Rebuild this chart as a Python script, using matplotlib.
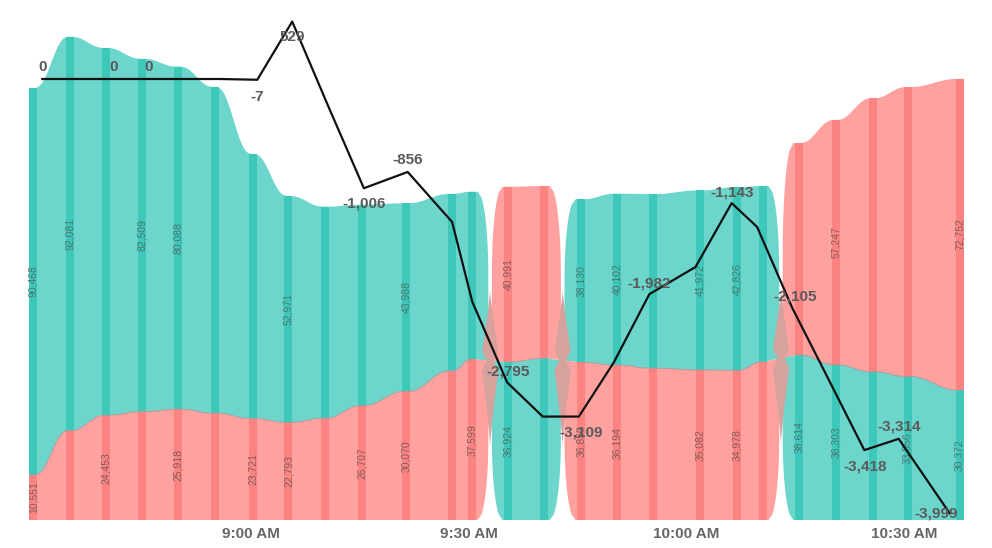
import numpy as np
import pandas as pd
import matplotlib

matplotlib.use("Agg")
import matplotlib.pyplot as plt
from matplotlib.patches import Polygon

plt.rcParams["font.family"] = ["Liberation Sans", "DejaVu Sans"]

# --- data -------------------------------------------------------------------
times = [
    "08:30:00", "08:35:00", "08:40:00", "08:45:00", "08:50:00", "08:55:00",
    "09:00:15", "09:05:10", "09:10:10", "09:15:15", "09:21:25", "09:27:40",
    "09:30:30", "09:35:25", "09:40:25", "09:45:30", "09:50:25", "09:55:25",
    "10:01:55", "10:07:00", "10:10:35", "10:15:30", "10:20:35", "10:25:40",
    "10:30:30", "10:37:40",
]
teal_vals = [
    90468, 92081, 85900, 82509, 80088, 76300, 61840, 52971, 49470, 47000,
    43988, 41400, 39160, 36924, 37800, 38130, 40102, 40750, 41972, 42826,
    41080, 38614, 36303, 34670, 33556, 30372,
]
red_vals = [
    10551, 20900, 24453, 25320, 25918, 24950, 23721, 22793, 23780, 26707,
    30070, 34850, 37599, 40991, 40280, 36850, 36194, 35470, 35082, 34978,
    37010, 49520, 57247, 63920, 67660, 72752,
]
net_vals = [
    0, 0, 0, 0, 0, 0, -7, 529, -240, -1006, -856, -1317, -2051, -2795,
    -3109, -3109, -2610, -1982, -1731, -1143, -1363, -2105, -2760, -3418,
    -3314, -3999,
]
teal_label_idx = [0, 1, 3, 4, 7, 10, 13, 15, 16, 18, 19, 21, 22, 24, 25]
red_label_idx = [0, 2, 4, 6, 7, 9, 10, 12, 13, 15, 16, 18, 19, 22, 25]
# index -> label offset in pixels (dx, dy)
net_label_offsets = {
    0: (0, 12), 2: (0, 12), 3: (0, 12), 6: (0, -17), 7: (0, -15),
    9: (0, -15), 10: (0, 12), 13: (1, 11), 15: (2, -16), 17: (0, 11),
    19: (0, 11), 21: (3, 11), 23: (1, -16), 24: (0, 12), 25: (-13, 0),
}
tick_times = ["09:00:00", "09:30:00", "10:00:00", "10:30:00"]
tick_labels = ["9:00 AM", "9:30 AM", "10:00 AM", "10:30 AM"]

# --- style ------------------------------------------------------------------
TEAL, TEAL_DARK = "#6dd6cc", "#3dc8ba"
RED, RED_DARK = "#ffa19f", "#fb8483"
BROWN = "#d6a29d"
PX_PER_MIN = 7.256
UNITS_PER_PX = 233.8

t0 = pd.Timedelta("08:30:00")
mins = (pd.to_timedelta(times) - t0).total_seconds().to_numpy() / 60
tick_mins = (pd.to_timedelta(tick_times) - t0).total_seconds().to_numpy() / 60
teal = np.array(teal_vals, float)
red = np.array(red_vals, float)
total = teal + red
bnd = np.minimum(teal, red)
teal_top = teal >= red


def smooth(xk, yk, n=24):
    xs, ys = [], []
    for i in range(len(xk) - 1):
        t = np.linspace(0, 1, n, endpoint=False)
        s = t ** 3 * (t * (6 * t - 15) + 10)
        xs.append(xk[i] + (xk[i + 1] - xk[i]) * t)
        ys.append(yk[i] + (yk[i + 1] - yk[i]) * s)
    xs.append([xk[-1]])
    ys.append([yk[-1]])
    return np.concatenate(xs), np.concatenate(ys)


def cap_shape(t):
    r = np.clip(t / 0.5, 0, 1)
    return 0.3 + 0.6 * np.sqrt(1 - (1 - r) ** 2) + 0.1 * t ** 8


# split into runs where the same series is on top
segments = []
start = 0
for i in range(1, len(mins)):
    if teal_top[i] != teal_top[start]:
        segments.append((start, i - 1))
        start = i
segments.append((start, len(mins) - 1))

fig = plt.figure(figsize=(9.92, 5.48), dpi=100)
rect = [0, 28 / 548, 1, 520 / 548]
ax = fig.add_axes(rect)
ax.set_xlim(-33.3 / PX_PER_MIN, (992 - 33.3) / PX_PER_MIN)
ax.set_ylim(0, 520 * UNITS_PER_PX)
for sp in ax.spines.values():
    sp.set_visible(False)
ax.set_yticks([])
ax.set_xticks(tick_mins)
ax.set_xticklabels(tick_labels, fontsize=11, fontweight="bold", color="#666666")
ax.tick_params(axis="x", length=0, pad=5)

tt = np.linspace(0, 1, 30)
ext = 0.5
gaps = []
for i0, i1 in segments:
    xk = mins[i0:i1 + 1]
    left = i0 > 0
    right = i1 < len(mins) - 1
    if left:
        hl = (mins[i0] - mins[i0 - 1]) / 2
        pbl = (bnd[i0 - 1] + bnd[i0]) / 2
    if right:
        hr = (mins[i1 + 1] - mins[i1]) / 2
        pbr = (bnd[i1] + bnd[i1 + 1]) / 2
        gaps.append((mins[i1] + hr, pbr))

    xi, yi = smooth(xk, bnd[i0:i1 + 1])
    inner_x, inner_y = list(xi), list(yi)
    if left:
        inner_x.insert(0, mins[i0] - hl)
        inner_y.insert(0, pbl)
    else:
        inner_x.insert(0, mins[i0] - ext)
        inner_y.insert(0, bnd[i0])
    if right:
        inner_x.append(mins[i1] + hr)
        inner_y.append(pbr)
    else:
        inner_x.append(mins[i1] + ext)
        inner_y.append(bnd[i1])

    top_color = TEAL if teal_top[i0] else RED
    bot_color = RED if teal_top[i0] else TEAL
    for outer_vals, color in ((total, top_color), (np.zeros_like(total), bot_color)):
        xo, yo = smooth(xk, outer_vals[i0:i1 + 1])
        u0, u1 = outer_vals[i0], outer_vals[i1]
        if left:
            r = tt[::-1]
            lx = mins[i0] - hl * cap_shape(r)
            ly = u0 + (pbl - u0) * r
        else:
            lx, ly = np.array([mins[i0] - ext]), np.array([u0])
        if right:
            rx = mins[i1] + hr * cap_shape(tt)
            ry = u1 + (pbr - u1) * tt
        else:
            rx, ry = np.array([mins[i1] + ext]), np.array([u1])
        ox = np.concatenate([lx, xo, rx])
        oy = np.concatenate([ly, yo, ry])
        px = np.concatenate([ox, inner_x[::-1]])
        py = np.concatenate([oy, inner_y[::-1]])
        ax.add_patch(Polygon(np.column_stack([px, py]), closed=True,
                             facecolor=color, edgecolor="none", zorder=1))

    # darker stripes at each sample
    for i in range(i0, i1 + 1):
        ax.bar(mins[i], bnd[i], width=1.1, color=RED_DARK if teal_top[i] else TEAL_DARK,
               zorder=2, linewidth=0)
        ax.bar(mins[i], total[i] - bnd[i], bottom=bnd[i], width=1.1,
               color=TEAL_DARK if teal_top[i] else RED_DARK, zorder=2, linewidth=0)
    ax.plot(xi, yi, color="#b39a98", lw=0.7, zorder=3)

# crossing "bow-tie" where the two series swap places
for gx, pb in gaps:
    d_up = np.linspace(0, 70, 40)
    d_dn = np.linspace(0, 85, 40)
    w_up = 9.5 * (1 - d_up / 70) ** 1.2 * (0.35 + 0.65 * np.minimum(d_up / 10, 1))
    w_dn = 9.5 * (1 - d_dn / 85) ** 1.2 * (0.35 + 0.65 * np.minimum(d_dn / 10, 1))
    rx = np.concatenate([(w_up / PX_PER_MIN)[::-1], w_dn / PX_PER_MIN])
    ry = np.concatenate([(d_up * UNITS_PER_PX)[::-1], -d_dn * UNITS_PER_PX])
    bx = np.concatenate([gx + rx, (gx - rx)[::-1]])
    by = np.concatenate([pb + ry, (pb + ry)[::-1]])
    ax.add_patch(Polygon(np.column_stack([bx, by]), closed=True,
                         facecolor=BROWN, edgecolor="none", zorder=2.5))

# value labels inside the bands
for i in teal_label_idx:
    lo = bnd[i] if teal_top[i] else 0
    ax.text(mins[i], lo + teal[i] / 2, f"{teal_vals[i]:,}", rotation=90,
            ha="center", va="center", fontsize=7.5, color="#4c7672", zorder=4)
for i in red_label_idx:
    lo = 0 if teal_top[i] else bnd[i]
    ax.text(mins[i], lo + red[i] / 2, f"{red_vals[i]:,}", rotation=90,
            ha="center", va="center", fontsize=7.5, color="#845c5a", zorder=4)

# net line on its own overlay axes
ax2 = fig.add_axes(rect)
ax2.set_xlim(-42.29 / 7.107, (992 - 42.29) / 7.107)
ax2.set_ylim(-(520 - 79) * 9.21, 79 * 9.21)
ax2.axis("off")
ax2.patch.set_alpha(0)
ax2.plot(mins, net_vals, color="#111111", lw=1.6, zorder=5)
for i, (dx, dy) in net_label_offsets.items():
    ax2.annotate(f"{net_vals[i]:,}", (mins[i], net_vals[i]), xytext=(dx, dy),
                 textcoords="offset pixels", ha="center", va="center",
                 fontsize=11, fontweight="bold", color="#5a5a5a", zorder=6)

fig.savefig("out.png", dpi=100)
